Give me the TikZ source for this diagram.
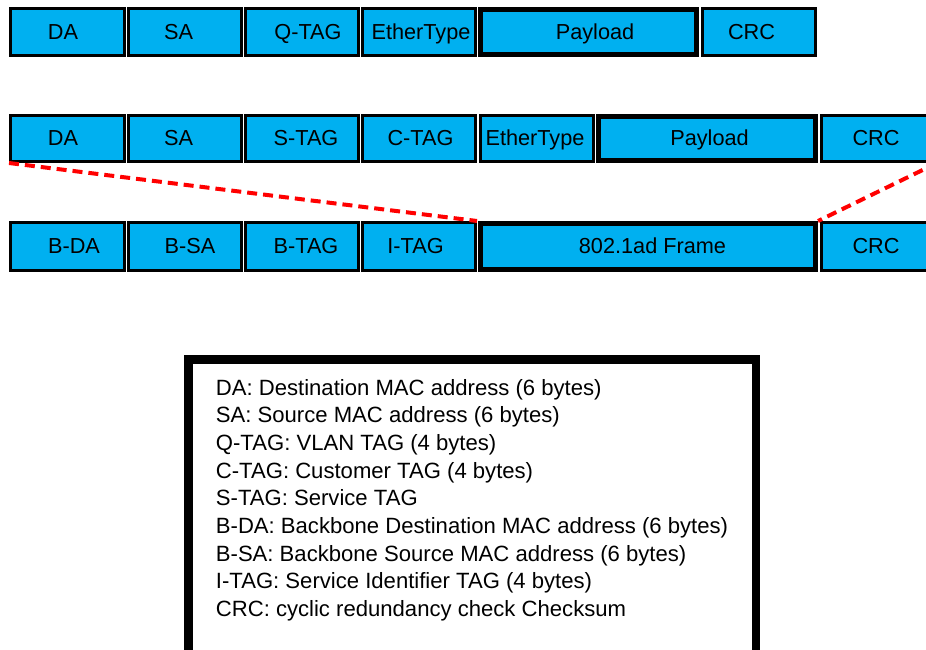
\documentclass[tikz,border=0pt]{standalone}
\usepackage{fontspec}
\setmainfont{Liberation Sans}
\definecolor{fieldblue}{HTML}{00B0F0}
\definecolor{linkred}{HTML}{FF0000}

% one header field: name, left, right, top, bottom, border width, label, label x
\newcommand\hdrfield[8]{%
  \node[cell, line width=#6pt, minimum width={#3-#2-#6}, minimum height={#5-#4-#6},
        anchor=north west] (#1) at ({#2},{#4}) {};
  \node[lbl] (#1-txt) at ({#8},{(#4+#5)/2+7}) {#7};}

\tikzset{
  cell/.style={draw=black, fill=fieldblue, rectangle, inner sep=0pt},
  lbl/.style={anchor=base, inner sep=0pt, font=\fontsize{21.7}{26}\selectfont},
  linkline/.style={draw=linkred, line width=4pt, dash pattern=on 10pt off 6pt},
  keybox/.style={draw=black, line width=8.5pt, fill=white, rectangle, inner sep=0pt},
  keyline/.style={anchor=base west, inner sep=0pt, font=\fontsize{22.1}{27}\selectfont},
}

\begin{document}
\begin{tikzpicture}[x=1pt, y=-1pt]
\useasboundingbox (0,0) rectangle (926,650);

% 802.1Q frame
\hdrfield{qda}{9}{126}{7.5}{57}{3}{DA}{63}
\hdrfield{qsa}{127}{243}{7.5}{57}{3}{SA}{178.5}
\hdrfield{qtag}{244}{360}{7.5}{57}{3}{Q-TAG}{308}
\hdrfield{qet}{361}{477}{7.5}{57}{3}{EtherType}{421}
\hdrfield{qpl}{478}{699}{7.5}{57}{5}{Payload}{595}
\hdrfield{qcrc}{701}{817}{7.5}{57}{3}{CRC}{751.5}

% 802.1ad frame
\hdrfield{adda}{9}{126}{114}{163}{3}{DA}{63}
\hdrfield{adsa}{127}{243}{114}{163}{3}{SA}{178.5}
\hdrfield{adstag}{244}{360}{114}{163}{3}{S-TAG}{306}
\hdrfield{adctag}{361}{477}{114}{163}{3}{C-TAG}{420.5}
\hdrfield{adet}{479}{595}{114}{163}{3}{EtherType}{535}
\hdrfield{adpl}{596}{818}{114}{163}{5}{Payload}{709.5}
\hdrfield{adcrc}{820}{937}{114}{163}{3}{CRC}{876}

% 802.1ah frame
\hdrfield{bda}{9}{126}{221}{272}{3}{B-DA}{74}
\hdrfield{bsa}{127}{243}{221}{272}{3}{B-SA}{190}
\hdrfield{btag}{244}{360}{221}{272}{3}{B-TAG}{306}
\hdrfield{itag}{361}{477}{221}{272}{3}{I-TAG}{415.5}
\hdrfield{bframe}{478}{818}{221}{272}{5}{802.1ad Frame}{652.5}
\hdrfield{bcrc}{820}{937}{221}{272}{3}{CRC}{876}

% encapsulation of the 802.1ad frame
\draw[linkline] (adda.south west) -- (itag.north east);
\draw[linkline] (adcrc.south east) -- (bframe.north east);

% legend
\node[keybox, minimum width=567.5, minimum height=295, anchor=north west] (key) at (184,355) {};
\foreach \i/\t in {0/{DA: Destination MAC address (6 bytes)},
                   1/{SA: Source MAC address (6 bytes)},
                   2/{Q-TAG: VLAN TAG (4 bytes)},
                   3/{C-TAG: Customer TAG (4 bytes)},
                   4/{S-TAG: Service TAG},
                   5/{B-DA: Backbone Destination MAC address (6 bytes)},
                   6/{B-SA: Backbone Source MAC address (6 bytes)},
                   7/{I-TAG: Service Identifier TAG (4 bytes)},
                   8/{CRC: cyclic redundancy check Checksum}}
  \node[keyline] (key-\i) at (215.7, {395+27.7*\i}) {\t};
\end{tikzpicture}
\end{document}
